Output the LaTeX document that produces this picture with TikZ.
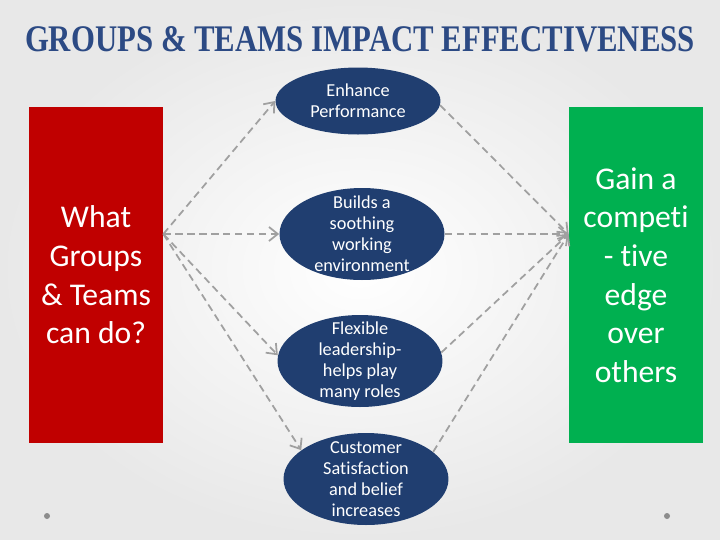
\documentclass[tikz,border=0pt]{standalone}
\usepackage{fontspec}
\setmainfont{Carlito}[Ligatures=NoCommon]
\newfontfamily\titlefont{Liberation Serif}
\usepackage{graphicx}
\usetikzlibrary{arrows.meta, shapes.geometric}
\definecolor{titleblue}{RGB}{44,74,132}
\definecolor{ellblue}{RGB}{32,62,112}
\definecolor{boxred}{RGB}{192,0,0}
\definecolor{boxgreen}{RGB}{0,176,80}
\definecolor{linegray}{RGB}{160,160,160}

\begin{document}
\begin{tikzpicture}[
  x=0.02cm, y=-0.02cm,
  >={Straight Barb[length=5pt, width=8pt]},
  bigbox/.style = {rectangle, minimum width=2.68cm, minimum height=6.72cm,
                   inner sep=0pt, align=center, text=white,
                   font=\fontsize{18}{22}\selectfont},
  effect/.style = {ellipse, fill=ellblue, minimum width=3.3cm,
                   minimum height=1.84cm, inner sep=-12pt, align=center,
                   text=white, font=\fontsize{10.4}{12}\selectfont},
  link/.style   = {->, linegray, line width=1pt,
                   dash pattern=on 4.2pt off 2.6pt}
]
\useasboundingbox (0,0) rectangle (720,539);
\shade[inner color=white, outer color=black!9] (0,0) rectangle (720,539);

\node[text=titleblue] (title) at (360,39.5)
  {\resizebox{13.4cm}{0.5cm}{\titlefont\bfseries GROUPS \& TEAMS IMPACT EFFECTIVENESS}};

\node[bigbox, fill=boxred] (what) at (96,275)
  {What\\Groups\\\& Teams\\can do?};
\node[bigbox, fill=boxgreen] (gain) at (636,275)
  {Gain a\\competi\\- tive\\edge\\over\\others};

\node[effect, minimum height=1.34cm] (perf) at (358,101)
  {Enhance\\Performance};
\node[effect] (sooth) at (362,234)
  {Builds a\\soothing\\working\\environment};
\node[effect] (lead) at (360,361)
  {Flexible\\leadership-\\helps play\\many roles};
\node[effect] (cust) at (366,479)
  {Customer\\Satisfaction\\and belief\\increases};

\coordinate (src) at (what.east |- sooth.center);
\coordinate (dst) at (gain.west |- sooth.center);

% what groups can do -> effects
\draw[link] (src) -- (perf.west);
\draw[link] (src) -- (sooth.west);
\draw[link] (src) -- (lead.176);
\draw[link] (src) -- (cust.156);

% effects -> competitive edge
\draw[link] (perf.-3) -- (dst);
\draw[link] (sooth.east) -- (dst);
\draw[link] (lead.6) -- (dst);
\draw[link] (cust.22) -- (dst);

\fill[black!45] (47,516) circle (3);
\fill[black!45] (667,516) circle (3);
\end{tikzpicture}
\end{document}
